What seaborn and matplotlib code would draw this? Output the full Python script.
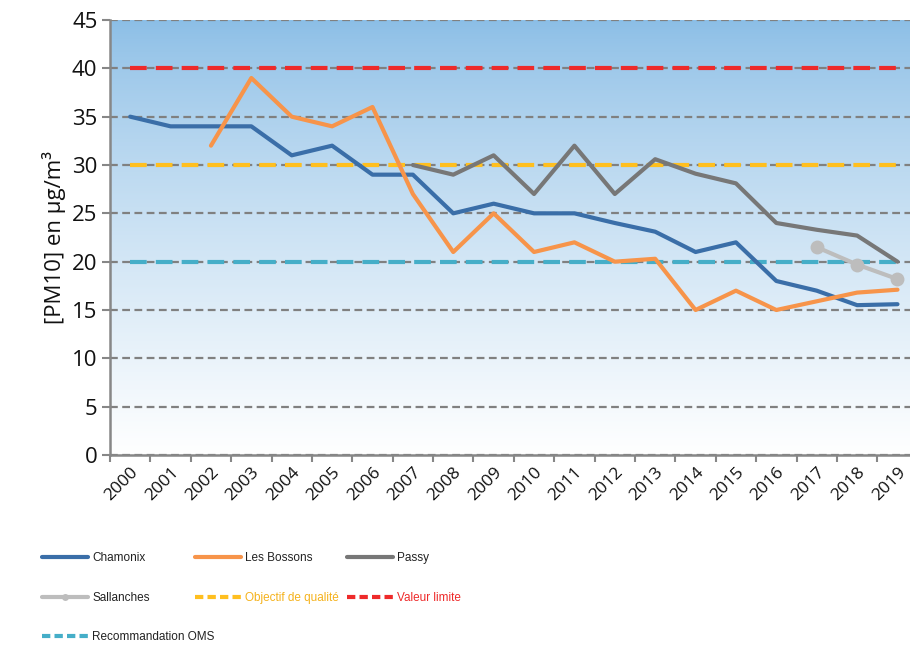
#
# PM10 annual means - Arve valley stations
#

import numpy as np
import pandas as pd
import matplotlib.pyplot as plt
import seaborn as sns
from matplotlib.lines import Line2D

#%%

# Data
years = list(range(2000, 2020))

chamonix = [35, 34, 34, 34, 31, 32, 29, 29, 25, 26,
            25, 25, 24, 23.1, 21, 22, 18, 17, 15.5, 15.6]
bossons = [np.nan, np.nan, 32, 39, 35, 34, 36, 27, 21, 25,
           21, 22, 20, 20.3, 15, 17, 15, 15.9, 16.8, 17.1]
passy = [np.nan] * 7 + [30, 29, 31, 27, 32, 27, 30.6, 29.1, 28.1, 24, 23.3, 22.7, 20]
sallanches = [np.nan] * 17 + [21.5, 19.7, 18.2]

valeur_limite = 40
objectif_qualite = 30
recommandation_oms = 20

df = pd.DataFrame({'year': years, 'Chamonix': chamonix, 'Les Bossons': bossons,
                   'Passy': passy, 'Sallanches': sallanches})

#%%

sns.set_style('ticks')
plt.rcParams['font.family'] = ['Open Sans', 'DejaVu Sans']

fig = plt.figure(figsize=(9.1, 6.45), dpi=100)
ax = fig.add_axes([110/910, 190/645, 800/910, 435/645])

x0, x1 = 1999.505, 2019.31
ax.set_xlim(x0, x1)
ax.set_ylim(0, 45)

# gradient background, blue at top to white at bottom
t = np.linspace(0, 1, 256).reshape(-1, 1) ** 0.8
top = np.array([139, 190, 230]) / 255
grad = (1 - t[..., None]) * top + t[..., None] * np.ones(3)
ax.imshow(grad, extent=[x0, x1, 0, 45], aspect='auto', zorder=0, origin='upper')

# gridlines
ax.set_yticks(range(0, 50, 5))
ax.set_axisbelow(True)
ax.yaxis.grid(True, color='#808080', linestyle=(0, (3.5, 2)), linewidth=1.6)

# threshold lines
ax.hlines(valeur_limite, years[0], years[-1], colors='#ee2a2a', lw=3, linestyles=(0, (4, 2.2)), zorder=2)
ax.hlines(objectif_qualite, years[0], years[-1], colors='#ffbf1f', lw=3, linestyles=(0, (4, 2.2)), zorder=2)
ax.hlines(recommandation_oms, years[0], years[-1], colors='#45aec8', lw=3, linestyles=(0, (4, 2.2)), zorder=2)

colors = {'Chamonix': '#3a6ea8', 'Les Bossons': '#f7944a', 'Passy': '#777777', 'Sallanches': '#bdbdbd'}

for name in ['Chamonix', 'Les Bossons', 'Passy']:
    sns.lineplot(data=df, x='year', y=name, ax=ax, color=colors[name], lw=3, zorder=3)
sns.lineplot(data=df, x='year', y='Sallanches', ax=ax, color=colors['Sallanches'], lw=3,
             marker='o', markersize=10, markeredgewidth=0, zorder=3)

# axes styling
ax.set_xlabel('')
ax.set_ylabel('[PM10] en µg/m³', fontsize=16, labelpad=4, color='#111111')
ax.set_xticks(years)
ax.set_xticklabels([str(y) for y in years], rotation=45, ha='right', rotation_mode='anchor',
                   fontsize=12.5, color='#111111')
ax.set_xticks([y - 0.5 for y in years], minor=True)
ax.tick_params(axis='x', which='major', length=0, pad=7)
ax.tick_params(axis='x', which='minor', length=5, width=1.5, color='#878787', direction='out')
ax.tick_params(axis='y', length=6, width=1.5, color='#878787', labelsize=16, pad=3, labelcolor='#111111')
for s in ['top', 'right']:
    ax.spines[s].set_visible(False)
for s in ['left', 'bottom']:
    ax.spines[s].set_color('#878787')
    ax.spines[s].set_linewidth(1.8)
    ax.spines[s].set_zorder(4)

#%%

# legend, three columns laid out row by row
def h(color, ls='-', marker=None):
    return Line2D([], [], color=color, lw=3, linestyle=ls, marker=marker, markersize=5, markeredgewidth=0)

dash = (0, (2, 1))
columns = [
    ([h(colors['Chamonix']), h(colors['Sallanches'], marker='o'), h('#45aec8', dash)],
     ['Chamonix', 'Sallanches', 'Recommandation OMS'], ['#222222', '#222222', '#222222'], 42),
    ([h(colors['Les Bossons']), h('#ffbf1f', dash)],
     ['Les Bossons', 'Objectif de qualité'], ['#222222', '#f5b21c'], 195),
    ([h(colors['Passy']), h('#ee2a2a', dash)],
     ['Passy', 'Valeur limite'], ['#222222', '#ee2a2a'], 347),
]
for handles, labels, tcolors, xpos in columns:
    leg = fig.legend(handles, labels, loc='upper left', bbox_to_anchor=(xpos/910, 1 - 552/645),
                     frameon=False, handlelength=3.9, handletextpad=0.35,
                     labelspacing=2.35, borderpad=0, borderaxespad=0,
                     prop={'family': 'Liberation Sans', 'size': 8.5})
    for txt, c in zip(leg.get_texts(), tcolors):
        txt.set_color(c)

fig.savefig('out.png', dpi=100)
